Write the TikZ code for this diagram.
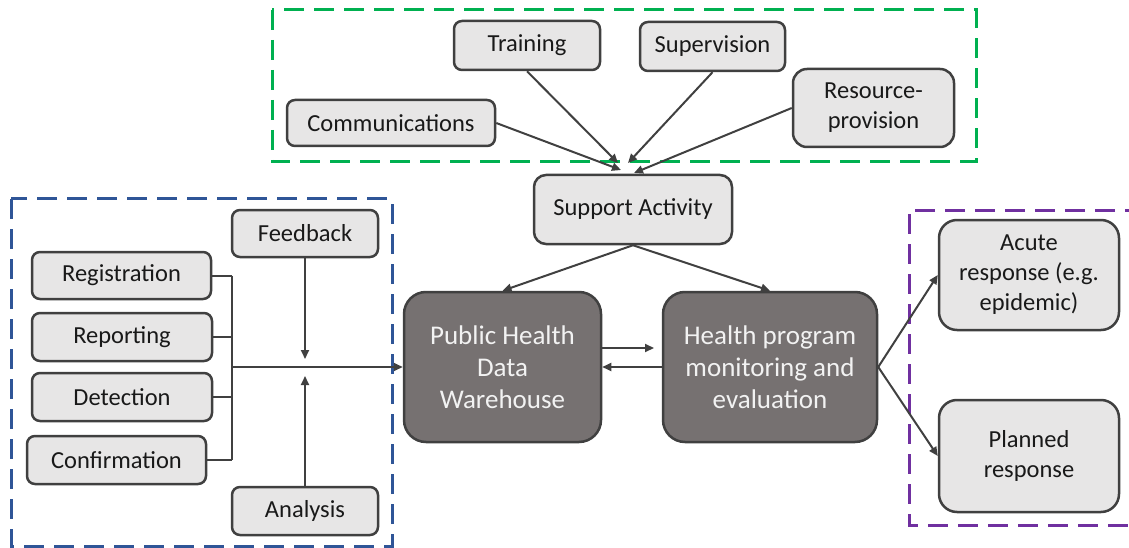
\documentclass[tikz,border=0pt]{standalone}
\usepackage{fontspec}
\setmainfont{Carlito}
\usetikzlibrary{arrows.meta}
\definecolor{boxfill}{HTML}{E7E6E6}
\definecolor{boxline}{HTML}{404040}
\definecolor{darkfill}{HTML}{767171}
\definecolor{darktext}{HTML}{F2F2F2}
\definecolor{blueD}{HTML}{2F5597}
\definecolor{greenD}{HTML}{00B050}
\definecolor{purpleD}{HTML}{7030A0}
\begin{document}
\begin{tikzpicture}[x=1pt,y=-1pt,
  lbox/.style={draw=boxline, fill=boxfill, line width=2.5pt, rounded corners=8pt, inner sep=0pt,
    align=center, font=\fontsize{24.5}{30}\selectfont, text=black!90},
  rbox/.style={lbox, rounded corners=18pt},
  dbox/.style={draw=boxline, fill=darkfill, line width=2.5pt, rounded corners=22pt, inner sep=0pt,
    align=center, font=\fontsize{27}{32}\selectfont, text=darktext},
  conn/.style={draw=boxline, line width=2pt},
  arr/.style={conn, -{Triangle[length=9pt,width=8pt]}},
  group/.style={line width=3pt, dash pattern=on 20pt off 10pt}]
\useasboundingbox (0,0) rectangle (1129,548);

% group frames
\draw[group, draw=blueD] (11,199) rectangle (392,546);
\draw[group, draw=greenD] (272,10) rectangle (976,162);
\begin{scope}
  \clip (0,0) rectangle (1129,548);
  \draw[group, draw=purpleD] (1145,210) -- (909,210) -- (909,525) -- (1145,525);
\end{scope}

% nodes
\node[lbox, minimum width=146pt, minimum height=47pt] (feedback) at (305,233.5) {Feedback};
\node[lbox, minimum width=179pt, minimum height=47pt] (reg) at (121.5,275.5) {Registration};
\node[lbox, minimum width=180pt, minimum height=48pt] (rep) at (122,337) {Reporting};
\node[lbox, minimum width=180pt, minimum height=48pt] (det) at (122,397) {Detection};
\node[lbox, minimum width=179pt, minimum height=48pt] (conf) at (116.5,460) {Confirmation};
\node[lbox, minimum width=146pt, minimum height=48pt] (analysis) at (305,511) {Analysis};

\node[dbox, minimum width=197pt, minimum height=150pt] (phdw) at (502.5,367) {Public Health\\Data\\Warehouse};
\node[dbox, minimum width=214pt, minimum height=150pt] (hpme) at (770,367) {Health program\\monitoring and\\evaluation};

\node[lbox, rounded corners=12pt, minimum width=198pt, minimum height=69pt] (sa) at (633,209.5) {Support Activity};
\node[lbox, minimum width=208pt, minimum height=46pt] (comm) at (391,123) {Communications};
\node[lbox, minimum width=146pt, minimum height=49pt] (train) at (527,45.5) {Training};
\node[lbox, minimum width=145pt, minimum height=49pt] (superv) at (712.5,46.5) {Supervision};
\node[rbox, rounded corners=14pt, minimum width=161pt, minimum height=78pt] (res) at (873.5,108) {Resource-\\provision};

\node[rbox, minimum width=180pt, minimum height=110pt] (acute) at (1029,275) {Acute\\response (e.g.\\epidemic)};
\node[rbox, minimum width=180pt, minimum height=112pt] (planned) at (1029,456) {Planned\\response};

% helper coordinates
\coordinate (bus) at (232,367);
\coordinate (fbEnd) at (305,359);
\coordinate (anEnd) at (305,376);
\coordinate (t1) at (621,170);
\coordinate (t2) at (618,163);
\coordinate (t3) at (628,163);
\coordinate (t4) at (634,173);
\coordinate (fwdS) at (601,348);
\coordinate (fwdE) at (654,348);

% left collector
\draw[conn] (reg.east) -- (reg.east -| bus);
\draw[conn] (rep.east) -- (rep.east -| bus);
\draw[conn] (det.east) -- (det.east -| bus);
\draw[conn] (conf.east) -- (conf.east -| bus);
\draw[conn] (reg.east -| bus) -- (conf.east -| bus);
\draw[arr] (bus) -- (phdw.west);
\draw[arr] (feedback.south) -- (fbEnd);
\draw[arr] (analysis.north) -- (anEnd);

% support activity inputs
\draw[arr] (comm.east) -- (t1);
\draw[arr] (train.south) -- (t2);
\draw[arr] (superv.south) -- (t3);
\draw[arr] (res.west) -- (t4);

\draw[arr] (sa.south) -- (phdw.north);
\draw[arr] (sa.south) -- (hpme.north);

% between the warehouses
\draw[arr] (fwdS) -- (fwdE);
\draw[arr] (hpme.west) -- (phdw.east);

% responses
\draw[arr] (hpme.east) -- (acute.west);
\draw[arr] (hpme.east) -- (planned.west);
\end{tikzpicture}
\end{document}
